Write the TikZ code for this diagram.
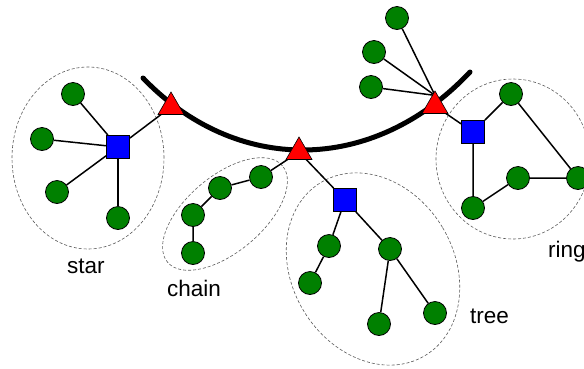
\documentclass[tikz,border=0pt]{standalone}
\usepackage{fontspec}
\setmainfont{Liberation Sans}
\usetikzlibrary{shapes.geometric}
\definecolor{leafgreen}{RGB}{0,128,0}
\definecolor{groupline}{RGB}{90,90,90}
\pgfdeclarelayer{groups}
\pgfdeclarelayer{links}
\pgfsetlayers{groups,links,main}
\begin{document}
\begin{tikzpicture}[x=1pt,y=-1pt,
  leaf/.style={circle, draw=black, line width=0.8pt, fill=leafgreen, minimum size=23pt, inner sep=0pt},
  hub/.style={rectangle, draw=black, line width=0.8pt, fill=blue, minimum size=23pt, inner sep=0pt},
  port/.style={regular polygon, regular polygon sides=3, draw=black, line width=0.6pt, fill=red, minimum size=30pt, inner sep=0pt},
  link/.style={line width=1.5pt},
  bus/.style={line width=5pt, line cap=round},
  group/.style={ellipse, draw=groupline, dash pattern=on 3pt off 2pt, line width=0.6pt, inner sep=0pt},
  tag/.style={font=\fontsize{22.5}{27}\selectfont, inner sep=0pt, anchor=base west}
]
\clip (0,0) rectangle (584,368);

% backbone ports
\node[port] (p1) at (171,107) {};
\node[port] (p2) at (299,152) {};
\node[port] (p3) at (435,106) {};

% star
\node[hub]  (s0) at (118,147) {};
\node[leaf] (s1) at (73,94) {};
\node[leaf] (s2) at (42,139) {};
\node[leaf] (s3) at (57,192) {};
\node[leaf] (s4) at (118,218) {};

% chain
\node[leaf] (c1) at (261,177) {};
\node[leaf] (c2) at (220,188) {};
\node[leaf] (c3) at (193,215) {};
\node[leaf] (c4) at (193,253) {};

% tree
\node[hub]  (t0) at (345,200) {};
\node[leaf] (t1) at (329,246) {};
\node[leaf] (t2) at (310,283) {};
\node[leaf] (t3) at (390,249) {};
\node[leaf] (t4) at (379,324) {};
\node[leaf] (t5) at (435,313) {};

% ring
\node[hub]  (r0) at (473,132) {};
\node[leaf] (r1) at (511,94) {};
\node[leaf] (r2) at (578,178) {};
\node[leaf] (r3) at (518,178) {};
\node[leaf] (r4) at (473,208) {};

% hosts attached directly to the third port
\node[leaf] (e1) at (397,18) {};
\node[leaf] (e2) at (374,52) {};
\node[leaf] (e3) at (371,87) {};

% labels
\node[tag] (lstar)  at (67,273)  {star};
\node[tag] (lchain) at (167,296) {chain};
\node[tag] (ltree)  at (470,323) {tree};
\node[tag] (lring)  at (548,257) {ring};

% dashed group outlines
\begin{pgfonlayer}{groups}
  \node[group, minimum width=152pt, minimum height=182pt] (gstar) at (88,158) {};
  \node[group, minimum width=150pt, minimum height=76pt, rotate=40] (gchain) at (225,214) {};
  \node[group, minimum width=162pt, minimum height=202pt, rotate=31] (gtree) at (373,269) {};
  \node[group, minimum width=154pt, minimum height=160pt] (gring) at (513,159) {};
\end{pgfonlayer}

% backbone and links
\begin{pgfonlayer}{links}
  \coordinate (busA) at (143,78);
  \coordinate (busB) at (470,72);
  \draw[bus] (busA) .. controls (235,174) and (372,176) .. (busB);

  \draw[link] (p1.center) -- (s0);
  \foreach \n in {s1,s2,s3,s4} \draw[link] (s0) -- (\n);

  \draw[link] (p2.center) -- (c1);
  \draw[link] (c1) -- (c2) -- (c3) -- (c4);

  \draw[link] (p2.center) -- (t0);
  \draw[link] (t0) -- (t1) -- (t2);
  \draw[link] (t0) -- (t3) -- (t4);
  \draw[link] (t3) -- (t5);

  \draw[link] (p3.center) -- (r0);
  \draw[link] (r0) -- (r1) -- (r2) -- (r3) -- (r4) -- (r0);

  \foreach \n in {e1,e2,e3} \draw[link] ([yshift=-5pt]p3.corner 1) -- (\n);
\end{pgfonlayer}
\end{tikzpicture}
\end{document}
